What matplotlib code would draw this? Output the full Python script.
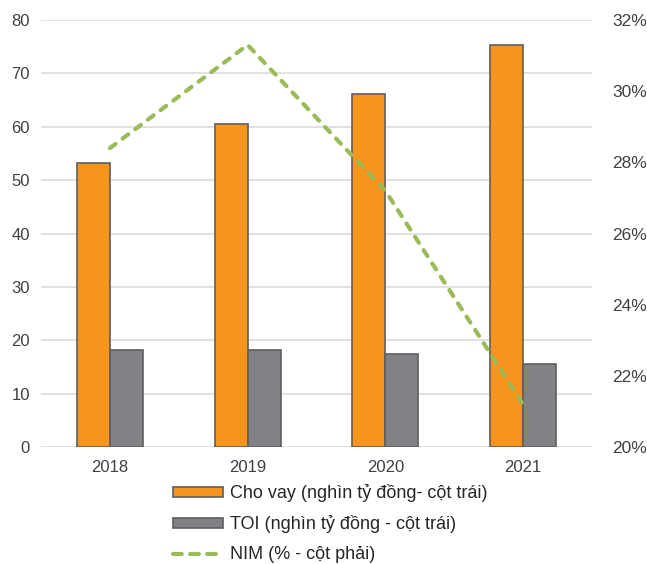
import matplotlib.pyplot as plt
from matplotlib.lines import Line2D
import numpy as np

plt.rcParams['font.family'] = ['Liberation Sans', 'DejaVu Sans']

years = ['2018', '2019', '2020', '2021']
cho_vay = [53.2, 60.5, 66.1, 75.3]
toi = [18.2, 18.2, 17.4, 15.5]
nim = [28.4, 31.3, 27.2, 21.2]

c_orange = '#F7941D'
c_gray = '#808285'
c_edge = '#5E5E5E'
c_green = '#9BBB59'

fig = plt.figure(figsize=(6.47, 5.64), dpi=100)
ax = fig.add_axes([0.0634, 0.2074, 0.8516, 0.7571])
x = np.arange(len(years))
w = 0.24

ax.bar(x - w / 2, cho_vay, w, color=c_orange, edgecolor=c_edge, linewidth=1.2,
       label='Cho vay (nghìn tỷ đồng- cột trái)', zorder=3)
ax.bar(x + w / 2, toi, w, color=c_gray, edgecolor=c_edge, linewidth=1.2,
       label='TOI (nghìn tỷ đồng - cột trái)', zorder=3)

ax.set_xlim(-0.5, 3.5)
ax.set_ylim(0, 80)
ax.set_yticks(range(0, 81, 10))
ax.set_xticks(x)
ax.set_xticklabels(years)
ax.yaxis.grid(True, color='#DCDCDC', linewidth=1.2, zorder=0)
ax.set_axisbelow(True)
for s in ax.spines.values():
    s.set_visible(False)
ax.tick_params(axis='both', length=0, labelsize=12, colors='#404040', pad=8)
ax.tick_params(axis='x', pad=9)

# NIM on the right axis
ax2 = ax.twinx()
ax2.plot(x, nim, color=c_green, linewidth=3, linestyle=(0, (1.7, 2.1)),
         dash_capstyle='round', zorder=4)
ax2.set_ylim(20, 32)
ax2.set_yticks(range(20, 33, 2))
ax2.set_yticklabels([f'{v}%' for v in range(20, 33, 2)])
for s in ax2.spines.values():
    s.set_visible(False)
ax2.tick_params(axis='y', length=0, labelsize=12.5, colors='#404040', pad=14.5)

# legend entry for NIM uses longer dashes (three per handle)
nim_handle = Line2D([], [], color=c_green, linewidth=3, linestyle=(0, (2.1, 2.0)),
                    dash_capstyle='round')
h1, l1 = ax.get_legend_handles_labels()
fig.legend(h1 + [nim_handle], l1 + ['NIM (% - cột phải)'], loc='upper left',
           bbox_to_anchor=(0.254, 0.157), frameon=False, fontsize=13,
           handlelength=2.75, handleheight=0.45, labelspacing=0.72,
           handletextpad=0.4, borderpad=0, labelcolor='#262626')

fig.savefig('out.png', dpi=100)
